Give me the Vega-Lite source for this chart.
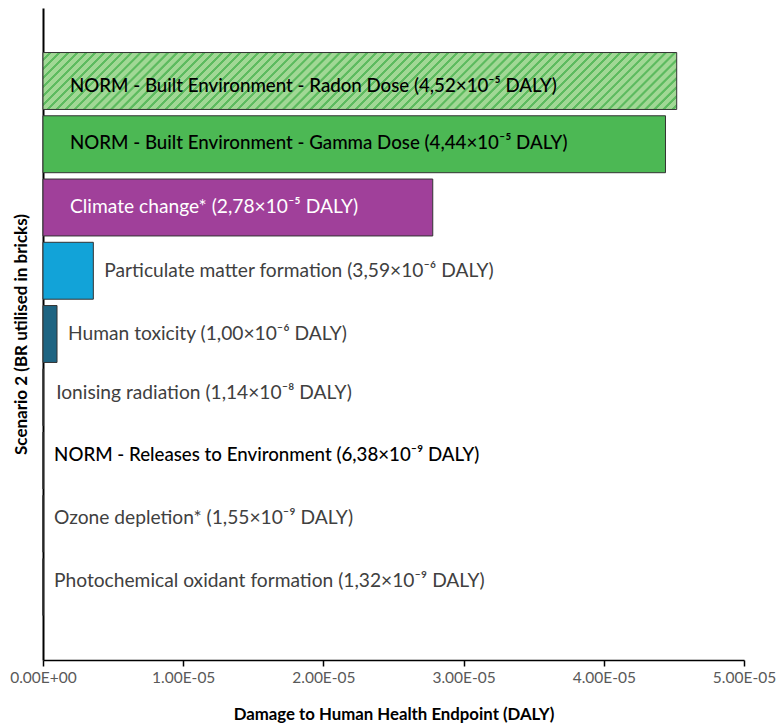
{
  "$schema": "https://vega.github.io/schema/vega-lite/v6.json",
  "width": 701,
  "height": 652,
  "autosize": {"type": "none"},
  "padding": {"left": 43, "top": 8, "right": 35, "bottom": 66},
  "background": "white",
  "config": {
    "view": {"stroke": null},
    "font": "Lato",
    "axisX": {
      "domainColor": "black", "domainWidth": 1.5, "tickColor": "black", "tickSize": 6, "tickWidth": 1.5,
      "labelFontSize": 15.5, "labelColor": "#595959", "labelPadding": 4, "grid": false,
      "labelOverlap": false, "labelBound": false, "labelFlush": false,
      "titleFontSize": 16.8, "titleFontWeight": "bold", "titleColor": "black", "titlePadding": 21
    }
  },
  "data": {
    "values": [
      {"name": "NORM - Built Environment - Radon Dose", "label": "NORM - Built Environment - Radon Dose (4,52×10⁻⁵ DALY)", "value": 4.52e-5},
      {"name": "NORM - Built Environment - Gamma Dose", "label": "NORM - Built Environment - Gamma Dose (4,44×10⁻⁵ DALY)", "value": 4.44e-5},
      {"name": "Climate change*", "label": "Climate change* (2,78×10⁻⁵ DALY)", "value": 2.78e-5},
      {"name": "Particulate matter formation", "label": "Particulate matter formation (3,59×10⁻⁶ DALY)", "value": 3.59e-6},
      {"name": "Human toxicity", "label": "Human toxicity (1,00×10⁻⁶ DALY)", "value": 1.0e-6},
      {"name": "Ionising radiation", "label": "Ionising radiation (1,14×10⁻⁸ DALY)", "value": 1.14e-8},
      {"name": "NORM - Releases to Environment", "label": "NORM - Releases to Environment (6,38×10⁻⁹ DALY)", "value": 6.38e-9},
      {"name": "Ozone depletion*", "label": "Ozone depletion* (1,55×10⁻⁹ DALY)", "value": 1.55e-9},
      {"name": "Photochemical oxidant formation", "label": "Photochemical oxidant formation (1,32×10⁻⁹ DALY)", "value": 1.32e-9}
    ]
  },
  "encoding": {
    "y": {
      "field": "name", "type": "nominal", "sort": null,
      "scale": {
        "domain": ["NORM - Built Environment - Radon Dose", "NORM - Built Environment - Gamma Dose", "Climate change*", "Particulate matter formation", "Human toxicity", "Ionising radiation", "NORM - Releases to Environment", "Ozone depletion*", "Photochemical oxidant formation"],
        "paddingInner": 0.1, "paddingOuter": 0.704
      },
      "axis": {
        "labels": false, "ticks": false, "title": "Scenario 2 (BR utilised in bricks)",
        "titleFontSize": 17, "titleFontWeight": "bold", "titleColor": "black", "titlePadding": 13,
        "domainColor": "black", "domainWidth": 2
      }
    },
    "x": {
      "field": "value", "type": "quantitative",
      "scale": {"domain": [0, 5e-5], "nice": false},
      "axis": {
        "title": "Damage to Human Health Endpoint (DALY)",
        "values": [0, 1e-5, 2e-5, 3e-5, 4e-5, 5e-5],
        "labelExpr": "datum.value == 0 ? '0.00E+00' : format(datum.value * 100000, '.2f') + 'E-05'"
      }
    }
  },
  "layer": [
    {
      "transform": [{"filter": {"not": {"field": "name", "equal": "NORM - Built Environment - Radon Dose"}}}],
      "mark": {"type": "bar", "stroke": "#333333", "strokeWidth": 1},
      "encoding": {
        "color": {
          "field": "name", "type": "nominal", "legend": null,
          "scale": {
            "domain": ["NORM - Built Environment - Gamma Dose", "Climate change*", "Particulate matter formation", "Human toxicity", "Ionising radiation", "NORM - Releases to Environment", "Ozone depletion*", "Photochemical oxidant formation"],
            "range": ["#4cb854", "#a0409a", "#12a3d8", "#1e6482", "#7f7f7f", "#7f7f7f", "#7f7f7f", "#7f7f7f"]
          }
        }
      }
    },
    {
      "transform": [{"filter": {"field": "name", "equal": "NORM - Built Environment - Radon Dose"}}],
      "mark": {
        "type": "bar", "stroke": "#333333", "strokeWidth": 1,
        "fill": {
          "gradient": "linear", "x1": 0, "y1": 0, "x2": 1.09, "y2": 0.098,
          "stops": [
{"offset":0,"color":"#a1d895"},{"offset":0.008,"color":"#a1d895"},{"offset":0.0088,"color":"#5dbb5f"},{"offset":0.0125,"color":"#5dbb5f"},
{"offset":0.013,"color":"#a1d895"},{"offset":0.021,"color":"#a1d895"},{"offset":0.0218,"color":"#5dbb5f"},{"offset":0.0255,"color":"#5dbb5f"},
{"offset":0.026,"color":"#a1d895"},{"offset":0.034,"color":"#a1d895"},{"offset":0.0348,"color":"#5dbb5f"},{"offset":0.0385,"color":"#5dbb5f"},
{"offset":0.039,"color":"#a1d895"},{"offset":0.047,"color":"#a1d895"},{"offset":0.0478,"color":"#5dbb5f"},{"offset":0.0515,"color":"#5dbb5f"},
{"offset":0.052,"color":"#a1d895"},{"offset":0.06,"color":"#a1d895"},{"offset":0.0608,"color":"#5dbb5f"},{"offset":0.0645,"color":"#5dbb5f"},
{"offset":0.065,"color":"#a1d895"},{"offset":0.073,"color":"#a1d895"},{"offset":0.0738,"color":"#5dbb5f"},{"offset":0.0775,"color":"#5dbb5f"},
{"offset":0.078,"color":"#a1d895"},{"offset":0.086,"color":"#a1d895"},{"offset":0.0868,"color":"#5dbb5f"},{"offset":0.0905,"color":"#5dbb5f"},
{"offset":0.091,"color":"#a1d895"},{"offset":0.099,"color":"#a1d895"},{"offset":0.0998,"color":"#5dbb5f"},{"offset":0.1035,"color":"#5dbb5f"},
{"offset":0.104,"color":"#a1d895"},{"offset":0.112,"color":"#a1d895"},{"offset":0.1128,"color":"#5dbb5f"},{"offset":0.1165,"color":"#5dbb5f"},
{"offset":0.117,"color":"#a1d895"},{"offset":0.125,"color":"#a1d895"},{"offset":0.1258,"color":"#5dbb5f"},{"offset":0.1295,"color":"#5dbb5f"},
{"offset":0.13,"color":"#a1d895"},{"offset":0.138,"color":"#a1d895"},{"offset":0.1388,"color":"#5dbb5f"},{"offset":0.1425,"color":"#5dbb5f"},
{"offset":0.143,"color":"#a1d895"},{"offset":0.151,"color":"#a1d895"},{"offset":0.1518,"color":"#5dbb5f"},{"offset":0.1555,"color":"#5dbb5f"},
{"offset":0.156,"color":"#a1d895"},{"offset":0.164,"color":"#a1d895"},{"offset":0.1648,"color":"#5dbb5f"},{"offset":0.1685,"color":"#5dbb5f"},
{"offset":0.169,"color":"#a1d895"},{"offset":0.177,"color":"#a1d895"},{"offset":0.1778,"color":"#5dbb5f"},{"offset":0.1815,"color":"#5dbb5f"},
{"offset":0.182,"color":"#a1d895"},{"offset":0.19,"color":"#a1d895"},{"offset":0.1908,"color":"#5dbb5f"},{"offset":0.1945,"color":"#5dbb5f"},
{"offset":0.195,"color":"#a1d895"},{"offset":0.203,"color":"#a1d895"},{"offset":0.2038,"color":"#5dbb5f"},{"offset":0.2075,"color":"#5dbb5f"},
{"offset":0.208,"color":"#a1d895"},{"offset":0.216,"color":"#a1d895"},{"offset":0.2168,"color":"#5dbb5f"},{"offset":0.2205,"color":"#5dbb5f"},
{"offset":0.221,"color":"#a1d895"},{"offset":0.229,"color":"#a1d895"},{"offset":0.2298,"color":"#5dbb5f"},{"offset":0.2335,"color":"#5dbb5f"},
{"offset":0.234,"color":"#a1d895"},{"offset":0.242,"color":"#a1d895"},{"offset":0.2428,"color":"#5dbb5f"},{"offset":0.2465,"color":"#5dbb5f"},
{"offset":0.247,"color":"#a1d895"},{"offset":0.255,"color":"#a1d895"},{"offset":0.2558,"color":"#5dbb5f"},{"offset":0.2595,"color":"#5dbb5f"},
{"offset":0.26,"color":"#a1d895"},{"offset":0.268,"color":"#a1d895"},{"offset":0.2688,"color":"#5dbb5f"},{"offset":0.2725,"color":"#5dbb5f"},
{"offset":0.273,"color":"#a1d895"},{"offset":0.281,"color":"#a1d895"},{"offset":0.2818,"color":"#5dbb5f"},{"offset":0.2855,"color":"#5dbb5f"},
{"offset":0.286,"color":"#a1d895"},{"offset":0.294,"color":"#a1d895"},{"offset":0.2948,"color":"#5dbb5f"},{"offset":0.2985,"color":"#5dbb5f"},
{"offset":0.299,"color":"#a1d895"},{"offset":0.307,"color":"#a1d895"},{"offset":0.3078,"color":"#5dbb5f"},{"offset":0.3115,"color":"#5dbb5f"},
{"offset":0.312,"color":"#a1d895"},{"offset":0.32,"color":"#a1d895"},{"offset":0.3208,"color":"#5dbb5f"},{"offset":0.3245,"color":"#5dbb5f"},
{"offset":0.325,"color":"#a1d895"},{"offset":0.333,"color":"#a1d895"},{"offset":0.3338,"color":"#5dbb5f"},{"offset":0.3375,"color":"#5dbb5f"},
{"offset":0.338,"color":"#a1d895"},{"offset":0.346,"color":"#a1d895"},{"offset":0.3468,"color":"#5dbb5f"},{"offset":0.3505,"color":"#5dbb5f"},
{"offset":0.351,"color":"#a1d895"},{"offset":0.359,"color":"#a1d895"},{"offset":0.3598,"color":"#5dbb5f"},{"offset":0.3635,"color":"#5dbb5f"},
{"offset":0.364,"color":"#a1d895"},{"offset":0.372,"color":"#a1d895"},{"offset":0.3728,"color":"#5dbb5f"},{"offset":0.3765,"color":"#5dbb5f"},
{"offset":0.377,"color":"#a1d895"},{"offset":0.385,"color":"#a1d895"},{"offset":0.3858,"color":"#5dbb5f"},{"offset":0.3895,"color":"#5dbb5f"},
{"offset":0.39,"color":"#a1d895"},{"offset":0.398,"color":"#a1d895"},{"offset":0.3988,"color":"#5dbb5f"},{"offset":0.4025,"color":"#5dbb5f"},
{"offset":0.403,"color":"#a1d895"},{"offset":0.411,"color":"#a1d895"},{"offset":0.4118,"color":"#5dbb5f"},{"offset":0.4155,"color":"#5dbb5f"},
{"offset":0.416,"color":"#a1d895"},{"offset":0.424,"color":"#a1d895"},{"offset":0.4248,"color":"#5dbb5f"},{"offset":0.4285,"color":"#5dbb5f"},
{"offset":0.429,"color":"#a1d895"},{"offset":0.437,"color":"#a1d895"},{"offset":0.4378,"color":"#5dbb5f"},{"offset":0.4415,"color":"#5dbb5f"},
{"offset":0.442,"color":"#a1d895"},{"offset":0.45,"color":"#a1d895"},{"offset":0.4508,"color":"#5dbb5f"},{"offset":0.4545,"color":"#5dbb5f"},
{"offset":0.455,"color":"#a1d895"},{"offset":0.463,"color":"#a1d895"},{"offset":0.4638,"color":"#5dbb5f"},{"offset":0.4675,"color":"#5dbb5f"},
{"offset":0.468,"color":"#a1d895"},{"offset":0.476,"color":"#a1d895"},{"offset":0.4768,"color":"#5dbb5f"},{"offset":0.4805,"color":"#5dbb5f"},
{"offset":0.481,"color":"#a1d895"},{"offset":0.489,"color":"#a1d895"},{"offset":0.4898,"color":"#5dbb5f"},{"offset":0.4935,"color":"#5dbb5f"},
{"offset":0.494,"color":"#a1d895"},{"offset":0.502,"color":"#a1d895"},{"offset":0.5028,"color":"#5dbb5f"},{"offset":0.5065,"color":"#5dbb5f"},
{"offset":0.507,"color":"#a1d895"},{"offset":0.515,"color":"#a1d895"},{"offset":0.5158,"color":"#5dbb5f"},{"offset":0.5195,"color":"#5dbb5f"},
{"offset":0.52,"color":"#a1d895"},{"offset":0.528,"color":"#a1d895"},{"offset":0.5288,"color":"#5dbb5f"},{"offset":0.5325,"color":"#5dbb5f"},
{"offset":0.533,"color":"#a1d895"},{"offset":0.541,"color":"#a1d895"},{"offset":0.5418,"color":"#5dbb5f"},{"offset":0.5455,"color":"#5dbb5f"},
{"offset":0.546,"color":"#a1d895"},{"offset":0.554,"color":"#a1d895"},{"offset":0.5548,"color":"#5dbb5f"},{"offset":0.5585,"color":"#5dbb5f"},
{"offset":0.559,"color":"#a1d895"},{"offset":0.567,"color":"#a1d895"},{"offset":0.5678,"color":"#5dbb5f"},{"offset":0.5715,"color":"#5dbb5f"},
{"offset":0.572,"color":"#a1d895"},{"offset":0.58,"color":"#a1d895"},{"offset":0.5808,"color":"#5dbb5f"},{"offset":0.5845,"color":"#5dbb5f"},
{"offset":0.585,"color":"#a1d895"},{"offset":0.593,"color":"#a1d895"},{"offset":0.5938,"color":"#5dbb5f"},{"offset":0.5975,"color":"#5dbb5f"},
{"offset":0.598,"color":"#a1d895"},{"offset":0.606,"color":"#a1d895"},{"offset":0.6068,"color":"#5dbb5f"},{"offset":0.6105,"color":"#5dbb5f"},
{"offset":0.611,"color":"#a1d895"},{"offset":0.619,"color":"#a1d895"},{"offset":0.6198,"color":"#5dbb5f"},{"offset":0.6235,"color":"#5dbb5f"},
{"offset":0.624,"color":"#a1d895"},{"offset":0.632,"color":"#a1d895"},{"offset":0.6328,"color":"#5dbb5f"},{"offset":0.6365,"color":"#5dbb5f"},
{"offset":0.637,"color":"#a1d895"},{"offset":0.645,"color":"#a1d895"},{"offset":0.6458,"color":"#5dbb5f"},{"offset":0.6495,"color":"#5dbb5f"},
{"offset":0.65,"color":"#a1d895"},{"offset":0.658,"color":"#a1d895"},{"offset":0.6588,"color":"#5dbb5f"},{"offset":0.6625,"color":"#5dbb5f"},
{"offset":0.663,"color":"#a1d895"},{"offset":0.671,"color":"#a1d895"},{"offset":0.6718,"color":"#5dbb5f"},{"offset":0.6755,"color":"#5dbb5f"},
{"offset":0.676,"color":"#a1d895"},{"offset":0.684,"color":"#a1d895"},{"offset":0.6848,"color":"#5dbb5f"},{"offset":0.6885,"color":"#5dbb5f"},
{"offset":0.689,"color":"#a1d895"},{"offset":0.697,"color":"#a1d895"},{"offset":0.6978,"color":"#5dbb5f"},{"offset":0.7015,"color":"#5dbb5f"},
{"offset":0.702,"color":"#a1d895"},{"offset":0.71,"color":"#a1d895"},{"offset":0.7108,"color":"#5dbb5f"},{"offset":0.7145,"color":"#5dbb5f"},
{"offset":0.715,"color":"#a1d895"},{"offset":0.723,"color":"#a1d895"},{"offset":0.7238,"color":"#5dbb5f"},{"offset":0.7275,"color":"#5dbb5f"},
{"offset":0.728,"color":"#a1d895"},{"offset":0.736,"color":"#a1d895"},{"offset":0.7368,"color":"#5dbb5f"},{"offset":0.7405,"color":"#5dbb5f"},
{"offset":0.741,"color":"#a1d895"},{"offset":0.749,"color":"#a1d895"},{"offset":0.7498,"color":"#5dbb5f"},{"offset":0.7535,"color":"#5dbb5f"},
{"offset":0.754,"color":"#a1d895"},{"offset":0.762,"color":"#a1d895"},{"offset":0.7628,"color":"#5dbb5f"},{"offset":0.7665,"color":"#5dbb5f"},
{"offset":0.767,"color":"#a1d895"},{"offset":0.775,"color":"#a1d895"},{"offset":0.7758,"color":"#5dbb5f"},{"offset":0.7795,"color":"#5dbb5f"},
{"offset":0.78,"color":"#a1d895"},{"offset":0.788,"color":"#a1d895"},{"offset":0.7888,"color":"#5dbb5f"},{"offset":0.7925,"color":"#5dbb5f"},
{"offset":0.793,"color":"#a1d895"},{"offset":0.801,"color":"#a1d895"},{"offset":0.8018,"color":"#5dbb5f"},{"offset":0.8055,"color":"#5dbb5f"},
{"offset":0.806,"color":"#a1d895"},{"offset":0.814,"color":"#a1d895"},{"offset":0.8148,"color":"#5dbb5f"},{"offset":0.8185,"color":"#5dbb5f"},
{"offset":0.819,"color":"#a1d895"},{"offset":0.827,"color":"#a1d895"},{"offset":0.8278,"color":"#5dbb5f"},{"offset":0.8315,"color":"#5dbb5f"},
{"offset":0.832,"color":"#a1d895"},{"offset":0.84,"color":"#a1d895"},{"offset":0.8408,"color":"#5dbb5f"},{"offset":0.8445,"color":"#5dbb5f"},
{"offset":0.845,"color":"#a1d895"},{"offset":0.853,"color":"#a1d895"},{"offset":0.8538,"color":"#5dbb5f"},{"offset":0.8575,"color":"#5dbb5f"},
{"offset":0.858,"color":"#a1d895"},{"offset":0.866,"color":"#a1d895"},{"offset":0.8668,"color":"#5dbb5f"},{"offset":0.8705,"color":"#5dbb5f"},
{"offset":0.871,"color":"#a1d895"},{"offset":0.879,"color":"#a1d895"},{"offset":0.8798,"color":"#5dbb5f"},{"offset":0.8835,"color":"#5dbb5f"},
{"offset":0.884,"color":"#a1d895"},{"offset":0.892,"color":"#a1d895"},{"offset":0.8928,"color":"#5dbb5f"},{"offset":0.8965,"color":"#5dbb5f"},
{"offset":0.897,"color":"#a1d895"},{"offset":0.905,"color":"#a1d895"},{"offset":0.9058,"color":"#5dbb5f"},{"offset":0.9095,"color":"#5dbb5f"},
{"offset":0.91,"color":"#a1d895"},{"offset":0.918,"color":"#a1d895"},{"offset":0.9188,"color":"#5dbb5f"},{"offset":0.9225,"color":"#5dbb5f"},
{"offset":0.923,"color":"#a1d895"},{"offset":0.931,"color":"#a1d895"},{"offset":0.9318,"color":"#5dbb5f"},{"offset":0.9355,"color":"#5dbb5f"},
{"offset":0.936,"color":"#a1d895"},{"offset":0.944,"color":"#a1d895"},{"offset":0.9448,"color":"#5dbb5f"},{"offset":0.9485,"color":"#5dbb5f"},
{"offset":0.949,"color":"#a1d895"},{"offset":0.957,"color":"#a1d895"},{"offset":0.9578,"color":"#5dbb5f"},{"offset":0.9615,"color":"#5dbb5f"},
{"offset":0.962,"color":"#a1d895"},{"offset":0.97,"color":"#a1d895"},{"offset":0.9708,"color":"#5dbb5f"},{"offset":0.9745,"color":"#5dbb5f"},
{"offset":0.975,"color":"#a1d895"},{"offset":0.983,"color":"#a1d895"},{"offset":0.9838,"color":"#5dbb5f"},{"offset":0.9875,"color":"#5dbb5f"},
{"offset":0.988,"color":"#a1d895"},{"offset":0.996,"color":"#a1d895"},{"offset":0.9968,"color":"#5dbb5f"},{"offset":1,"color":"#5dbb5f"}
          ]
        }
      }
    },
    {
      "transform": [{"filter": {"field": "name", "equal": "NORM - Built Environment - Radon Dose"}}],
      "mark": {"type": "text", "align": "left", "baseline": "middle", "dx": 27, "dy": 5, "fontSize": 18.7, "color": "black", "fontWeight": 500},
      "encoding": {"x": {"datum": 0, "type": "quantitative"}, "text": {"field": "label"}}
    },
    {
      "transform": [{"filter": {"field": "name", "equal": "NORM - Built Environment - Gamma Dose"}}],
      "mark": {"type": "text", "align": "left", "baseline": "middle", "dx": 27, "dy": -1, "fontSize": 18.7, "color": "black", "fontWeight": 500},
      "encoding": {"x": {"datum": 0, "type": "quantitative"}, "text": {"field": "label"}}
    },
    {
      "transform": [{"filter": {"field": "name", "equal": "Climate change*"}}],
      "mark": {"type": "text", "align": "left", "baseline": "middle", "dx": 27, "fontSize": 19.2, "color": "white", "fontWeight": 400},
      "encoding": {"x": {"datum": 0, "type": "quantitative"}, "text": {"field": "label"}}
    },
    {
      "transform": [{"filter": {"field": "name", "oneOf": ["Particulate matter formation", "Human toxicity"]}}],
      "mark": {"type": "text", "align": "left", "baseline": "middle", "dx": 11, "fontSize": 19.2, "color": "#404040", "fontWeight": 400},
      "encoding": {"text": {"field": "label"}}
    },
    {
      "transform": [{"filter": {"field": "name", "equal": "Ionising radiation"}}],
      "mark": {"type": "text", "align": "left", "baseline": "middle", "dx": 13, "dy": -4, "fontSize": 19.2, "color": "#404040", "fontWeight": 400},
      "encoding": {"text": {"field": "label"}}
    },
    {
      "transform": [{"filter": {"field": "name", "oneOf": ["Ozone depletion*", "Photochemical oxidant formation"]}}],
      "mark": {"type": "text", "align": "left", "baseline": "middle", "dx": 11, "dy": -6, "fontSize": 19.2, "color": "#404040", "fontWeight": 400},
      "encoding": {"text": {"field": "label"}}
    },
    {
      "transform": [{"filter": {"field": "name", "equal": "NORM - Releases to Environment"}}],
      "mark": {"type": "text", "align": "left", "baseline": "middle", "dx": 11, "dy": -6, "fontSize": 18.7, "color": "black", "fontWeight": 500},
      "encoding": {"text": {"field": "label"}}
    }
  ]
}
